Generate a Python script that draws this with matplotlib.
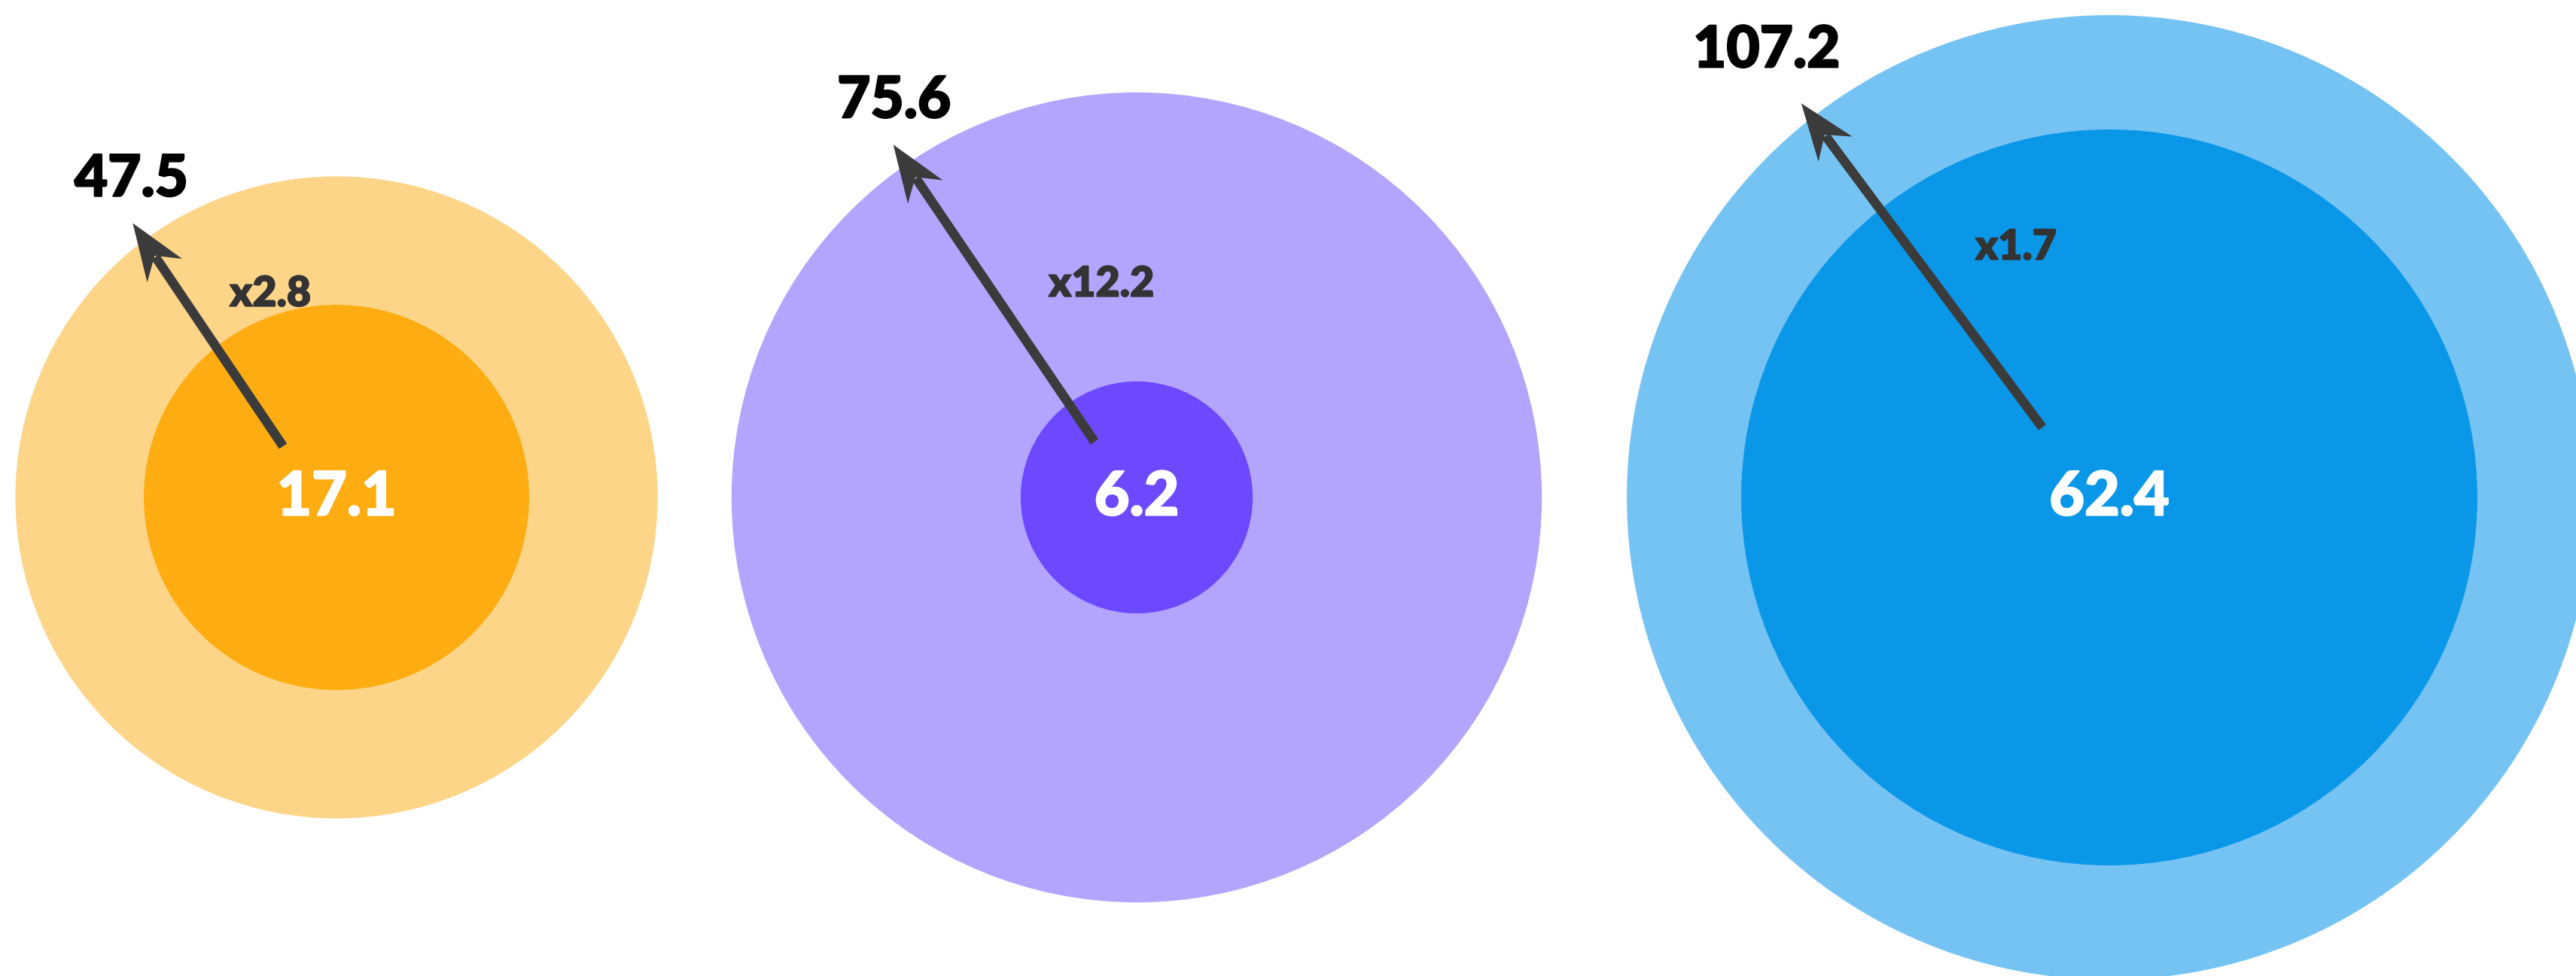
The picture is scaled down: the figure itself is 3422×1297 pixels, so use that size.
#!/usr/bin/env python3
"""
Nested bubbles: outer value vs inner value, circle area proportional to value.
"""

import numpy as np
import matplotlib
matplotlib.use('Agg')
import matplotlib.pyplot as plt
import matplotlib.patheffects as pe
from matplotlib.patches import Circle, Polygon

plt.rcParams['font.family'] = ['Lato', 'DejaVu Sans']

# data
outer_values = [47.5, 75.6, 107.2]
inner_values = [17.1, 6.2, 62.4]

outer_colors = ['#FDD588', '#B3A4FE', '#75C3F3']
inner_colors = ['#FDAD12', '#6C48FF', '#0B97E8']

# layout (pixels, y grows downward)
W, H = 3422, 1297
centers_x = [447, 1510, 2802]
center_y = 661
k = 61.9                      # radius = k * sqrt(value)
tip_angle = [53.4, 55.4, 52.0]      # degrees, up-left from centre
tip_factor = [1.064, 1.058, 1.037]  # tip distance / outer radius
tail_offset = [(-71, -68), (-56, -74), (-89, -93)]
label_offset = [(-2, -58), (1, -58), (-46, -70)]      # outer value label vs arrow tip
ratio_offset = [(-88, -271), (-47, -284), (-124, -333)]  # ratio label vs centre

arrow_color = '#3B3B3B'
head_len, head_half, notch = 76, 28, 52

fig = plt.figure(figsize=(W / 100, H / 100), dpi=100)
ax = fig.add_axes([0, 0, 1, 1])
ax.set_xlim(0, W)
ax.set_ylim(H, 0)
ax.set_aspect('equal')
ax.axis('off')


def heavy(color, w=1.6):
    # thicken Lato Bold a little towards the black weight
    return [pe.withStroke(linewidth=w, foreground=color)]


for i in range(3):
    cx = centers_x[i]
    r_out = k * np.sqrt(outer_values[i])
    r_in = k * np.sqrt(inner_values[i])
    ax.add_patch(Circle((cx, center_y), r_out, color=outer_colors[i], lw=0, zorder=1))
    ax.add_patch(Circle((cx, center_y), r_in, color=inner_colors[i], lw=0, zorder=2))

    # arrow
    a = np.radians(tip_angle[i])
    tip = np.array([cx - np.cos(a) * r_out * tip_factor[i],
                    center_y - np.sin(a) * r_out * tip_factor[i]])
    tail = np.array([cx + tail_offset[i][0], center_y + tail_offset[i][1]])
    u = (tip - tail) / np.linalg.norm(tip - tail)
    p = np.array([-u[1], u[0]])
    base = tip - u * head_len
    notch_pt = tip - u * notch
    ax.plot([tail[0], notch_pt[0] - u[0] * 2], [tail[1], notch_pt[1] - u[1] * 2],
            color=arrow_color, lw=9, solid_capstyle='butt', zorder=3)
    head = Polygon([tip, base + p * head_half, notch_pt, base - p * head_half],
                   closed=True, color=arrow_color, lw=0, zorder=4)
    ax.add_patch(head)

    # labels
    ax.text(cx, center_y, f'{inner_values[i]:.1f}', color='white', fontsize=58,
            fontweight='black', ha='center', va='center', zorder=5,
            path_effects=heavy('white'))
    ax.text(tip[0] + label_offset[i][0], tip[1] + label_offset[i][1],
            f'{outer_values[i]:.1f}', color='black', fontsize=55,
            fontweight='black', ha='center', va='center', zorder=5,
            path_effects=heavy('black'))
    ax.text(cx + ratio_offset[i][0], center_y + ratio_offset[i][1],
            f'x{outer_values[i] / inner_values[i]:.1f}', color='#333333',
            fontsize=40, fontweight='heavy', ha='center', va='center', zorder=5,
            path_effects=heavy('#333333', 1.0))

fig.savefig('out.png', dpi=100, facecolor='white')
